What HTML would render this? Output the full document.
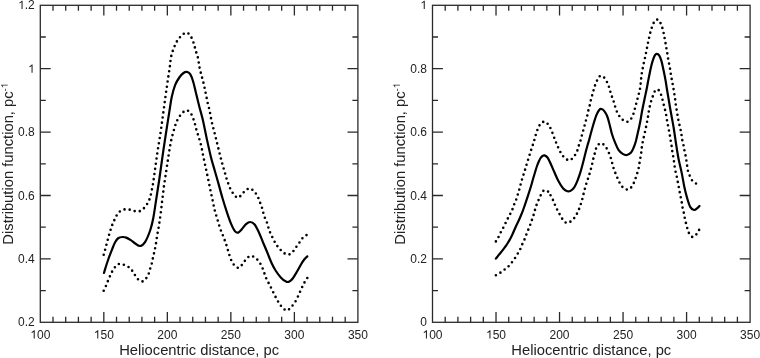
<!DOCTYPE html>
<html><head><meta charset="utf-8"><style>
html,body{margin:0;padding:0;background:#fff;}
body{width:760px;height:358px;overflow:hidden;}
svg{display:block;}
text{-webkit-font-smoothing:antialiased;}
.ax{fill:none;stroke:#2a2a2a;stroke-width:1.3;}
.tk{fill:none;stroke:#2a2a2a;stroke-width:1.3;}
.tl{font-family:"Liberation Sans",sans-serif;font-size:12px;fill:#222;}
.al{font-family:"Liberation Sans",sans-serif;font-size:14.75px;fill:#222;}
.sup{font-size:9.5px;}
.sol{fill:none;stroke:#000;stroke-width:2.2;stroke-linejoin:round;stroke-linecap:round;}
.g1{fill:#222;}
.dotf{fill:#000;stroke:none;}
</style></head><body>
<svg style="will-change:transform" width="760" height="358" viewBox="0 0 760 358">
<defs><path id="one" d="M763,0L583,0L583,1147Q530,1098 444,1046Q358,994 223,938L223,1112Q381,1186 489,1284Q598,1383 644,1409L763,1409Z"/></defs>
<rect x="40.30" y="5.30" width="317.60" height="317.00" class="ax"/>
<path class="tk" d="M53.00,322.30v-5.50 M53.00,5.30v5.50 M65.71,322.30v-5.50 M65.71,5.30v5.50 M78.41,322.30v-5.50 M78.41,5.30v5.50 M91.12,322.30v-5.50 M91.12,5.30v5.50 M103.82,322.30v-10.30 M103.82,5.30v10.30 M116.52,322.30v-5.50 M116.52,5.30v5.50 M129.23,322.30v-5.50 M129.23,5.30v5.50 M141.93,322.30v-5.50 M141.93,5.30v5.50 M154.64,322.30v-5.50 M154.64,5.30v5.50 M167.34,322.30v-10.30 M167.34,5.30v10.30 M180.04,322.30v-5.50 M180.04,5.30v5.50 M192.75,322.30v-5.50 M192.75,5.30v5.50 M205.45,322.30v-5.50 M205.45,5.30v5.50 M218.16,322.30v-5.50 M218.16,5.30v5.50 M230.86,322.30v-10.30 M230.86,5.30v10.30 M243.56,322.30v-5.50 M243.56,5.30v5.50 M256.27,322.30v-5.50 M256.27,5.30v5.50 M268.97,322.30v-5.50 M268.97,5.30v5.50 M281.68,322.30v-5.50 M281.68,5.30v5.50 M294.38,322.30v-10.30 M294.38,5.30v10.30 M307.08,322.30v-5.50 M307.08,5.30v5.50 M319.79,322.30v-5.50 M319.79,5.30v5.50 M332.49,322.30v-5.50 M332.49,5.30v5.50 M345.20,322.30v-5.50 M345.20,5.30v5.50 M40.30,290.60h5.50 M357.90,290.60h-5.50 M40.30,258.90h10.40 M357.90,258.90h-10.40 M40.30,227.20h5.50 M357.90,227.20h-5.50 M40.30,195.50h10.40 M357.90,195.50h-10.40 M40.30,163.80h5.50 M357.90,163.80h-5.50 M40.30,132.10h10.40 M357.90,132.10h-10.40 M40.30,100.40h5.50 M357.90,100.40h-5.50 M40.30,68.70h10.40 M357.90,68.70h-10.40 M40.30,37.00h5.50 M357.90,37.00h-5.50"/>
<text x="34.80" y="326.40" text-anchor="end" class="tl">0.2</text>
<text x="34.80" y="263.00" text-anchor="end" class="tl">0.4</text>
<text x="34.80" y="199.60" text-anchor="end" class="tl">0.6</text>
<text x="34.80" y="136.20" text-anchor="end" class="tl">0.8</text>
<text x="34.80" y="72.80" text-anchor="end" class="tl">&#x2007;</text><use href="#one" class="g1" transform="translate(28.112,72.800) scale(0.005859,-0.005859)"/>
<text x="34.80" y="8.90" text-anchor="end" class="tl">&#x2007;.2</text><use href="#one" class="g1" transform="translate(18.112,8.900) scale(0.005859,-0.005859)"/>
<text x="40.30" y="338.60" text-anchor="middle" class="tl">&#x2007;00</text><use href="#one" class="g1" transform="translate(30.284,338.600) scale(0.005859,-0.005859)"/>
<text x="103.82" y="338.60" text-anchor="middle" class="tl">&#x2007;50</text><use href="#one" class="g1" transform="translate(93.804,338.600) scale(0.005859,-0.005859)"/>
<text x="167.34" y="338.60" text-anchor="middle" class="tl">200</text>
<text x="230.86" y="338.60" text-anchor="middle" class="tl">250</text>
<text x="294.38" y="338.60" text-anchor="middle" class="tl">300</text>
<text x="357.90" y="338.60" text-anchor="middle" class="tl">350</text>
<text x="199.10" y="354.7" text-anchor="middle" class="al">Heliocentric distance, pc</text>
<g transform="translate(13.20,163.80) rotate(-90)"><text text-anchor="middle" class="al">Distribution function, pc<tspan class="sup" dy="-5.5">-&#x2007;</tspan></text><use href="#one" class="g1" transform="translate(75.586,-5.500) scale(0.004639,-0.004639)"/></g>
<rect x="432.50" y="5.30" width="317.60" height="317.00" class="ax"/>
<path class="tk" d="M445.20,322.30v-5.50 M445.20,5.30v5.50 M457.91,322.30v-5.50 M457.91,5.30v5.50 M470.61,322.30v-5.50 M470.61,5.30v5.50 M483.32,322.30v-5.50 M483.32,5.30v5.50 M496.02,322.30v-10.30 M496.02,5.30v10.30 M508.72,322.30v-5.50 M508.72,5.30v5.50 M521.43,322.30v-5.50 M521.43,5.30v5.50 M534.13,322.30v-5.50 M534.13,5.30v5.50 M546.84,322.30v-5.50 M546.84,5.30v5.50 M559.54,322.30v-10.30 M559.54,5.30v10.30 M572.24,322.30v-5.50 M572.24,5.30v5.50 M584.95,322.30v-5.50 M584.95,5.30v5.50 M597.65,322.30v-5.50 M597.65,5.30v5.50 M610.36,322.30v-5.50 M610.36,5.30v5.50 M623.06,322.30v-10.30 M623.06,5.30v10.30 M635.76,322.30v-5.50 M635.76,5.30v5.50 M648.47,322.30v-5.50 M648.47,5.30v5.50 M661.17,322.30v-5.50 M661.17,5.30v5.50 M673.88,322.30v-5.50 M673.88,5.30v5.50 M686.58,322.30v-10.30 M686.58,5.30v10.30 M699.28,322.30v-5.50 M699.28,5.30v5.50 M711.99,322.30v-5.50 M711.99,5.30v5.50 M724.69,322.30v-5.50 M724.69,5.30v5.50 M737.40,322.30v-5.50 M737.40,5.30v5.50 M432.50,290.60h5.50 M750.10,290.60h-5.50 M432.50,258.90h10.40 M750.10,258.90h-10.40 M432.50,227.20h5.50 M750.10,227.20h-5.50 M432.50,195.50h10.40 M750.10,195.50h-10.40 M432.50,163.80h5.50 M750.10,163.80h-5.50 M432.50,132.10h10.40 M750.10,132.10h-10.40 M432.50,100.40h5.50 M750.10,100.40h-5.50 M432.50,68.70h10.40 M750.10,68.70h-10.40 M432.50,37.00h5.50 M750.10,37.00h-5.50"/>
<text x="427.00" y="326.40" text-anchor="end" class="tl">0</text>
<text x="427.00" y="263.00" text-anchor="end" class="tl">0.2</text>
<text x="427.00" y="199.60" text-anchor="end" class="tl">0.4</text>
<text x="427.00" y="136.20" text-anchor="end" class="tl">0.6</text>
<text x="427.00" y="72.80" text-anchor="end" class="tl">0.8</text>
<text x="427.00" y="8.90" text-anchor="end" class="tl">&#x2007;</text><use href="#one" class="g1" transform="translate(420.312,8.900) scale(0.005859,-0.005859)"/>
<text x="432.50" y="338.60" text-anchor="middle" class="tl">&#x2007;00</text><use href="#one" class="g1" transform="translate(422.484,338.600) scale(0.005859,-0.005859)"/>
<text x="496.02" y="338.60" text-anchor="middle" class="tl">&#x2007;50</text><use href="#one" class="g1" transform="translate(486.004,338.600) scale(0.005859,-0.005859)"/>
<text x="559.54" y="338.60" text-anchor="middle" class="tl">200</text>
<text x="623.06" y="338.60" text-anchor="middle" class="tl">250</text>
<text x="686.58" y="338.60" text-anchor="middle" class="tl">300</text>
<text x="750.10" y="338.60" text-anchor="middle" class="tl">350</text>
<text x="591.30" y="354.7" text-anchor="middle" class="al">Heliocentric distance, pc</text>
<g transform="translate(405.40,163.80) rotate(-90)"><text text-anchor="middle" class="al">Distribution function, pc<tspan class="sup" dy="-5.5">-&#x2007;</tspan></text><use href="#one" class="g1" transform="translate(75.586,-5.500) scale(0.004639,-0.004639)"/></g>
<path class="sol" d="M104.00,273.00 C104.18,272.35 104.37,271.43 105.10,269.10 C105.83,266.77 107.28,262.17 108.40,259.00 C109.52,255.83 110.68,252.88 111.80,250.10 C112.92,247.32 113.98,244.32 115.10,242.30 C116.22,240.28 117.28,238.88 118.50,238.00 C119.72,237.12 121.10,237.07 122.40,237.00 C123.70,236.93 124.90,237.08 126.30,237.60 C127.70,238.12 129.32,239.12 130.80,240.10 C132.28,241.08 133.63,242.52 135.20,243.50 C136.77,244.48 138.53,246.28 140.20,246.00 C141.87,245.72 143.52,244.47 145.20,241.80 C146.88,239.13 148.95,233.97 150.30,230.00 C151.65,226.03 152.33,222.98 153.30,218.00 C154.27,213.02 155.12,206.43 156.10,200.10 C157.08,193.77 157.98,188.32 159.20,180.00 C160.42,171.68 162.20,158.45 163.40,150.20 C164.60,141.95 165.42,136.88 166.40,130.50 C167.38,124.12 168.40,117.52 169.30,111.90 C170.20,106.28 170.83,101.27 171.80,96.80 C172.77,92.33 173.85,88.32 175.10,85.10 C176.35,81.88 177.90,79.52 179.30,77.50 C180.70,75.48 182.25,73.93 183.50,73.00 C184.75,72.07 185.68,71.70 186.80,71.90 C187.92,72.10 189.13,72.57 190.20,74.20 C191.27,75.83 192.22,78.48 193.20,81.70 C194.18,84.92 195.07,89.30 196.10,93.50 C197.13,97.70 198.30,102.60 199.40,106.90 C200.50,111.20 201.48,114.05 202.70,119.30 C203.92,124.55 205.33,132.13 206.70,138.40 C208.07,144.67 209.52,151.38 210.90,156.90 C212.28,162.42 213.75,167.08 215.00,171.50 C216.25,175.92 217.13,178.90 218.40,183.40 C219.67,187.90 221.20,193.75 222.60,198.50 C224.00,203.25 225.40,207.72 226.80,211.90 C228.20,216.08 229.62,220.35 231.00,223.60 C232.38,226.85 233.90,229.90 235.10,231.40 C236.30,232.90 237.08,232.97 238.20,232.60 C239.32,232.23 240.50,230.60 241.80,229.20 C243.10,227.80 244.60,225.40 246.00,224.20 C247.40,223.00 248.80,222.00 250.20,222.00 C251.60,222.00 253.00,222.58 254.40,224.20 C255.80,225.82 257.20,228.77 258.60,231.70 C260.00,234.63 261.40,238.45 262.80,241.80 C264.20,245.15 265.50,248.18 267.00,251.80 C268.50,255.42 270.32,260.30 271.80,263.50 C273.28,266.70 274.37,268.63 275.90,271.00 C277.43,273.37 279.32,275.93 281.00,277.70 C282.68,279.47 284.60,280.95 286.00,281.60 C287.40,282.25 288.28,282.12 289.40,281.60 C290.52,281.08 291.45,280.13 292.70,278.50 C293.95,276.87 295.50,274.17 296.90,271.80 C298.30,269.43 299.85,266.38 301.10,264.30 C302.35,262.22 303.37,260.62 304.40,259.30 C305.43,257.98 306.82,256.88 307.30,256.40"/>
<path class="dotf" d="M102.40,254.80a1.30,1.30 0 1,0 2.60,0a1.30,1.30 0 1,0 -2.60,0M103.80,249.80a1.30,1.30 0 1,0 2.60,0a1.30,1.30 0 1,0 -2.60,0M105.12,244.79a1.30,1.30 0 1,0 2.60,0a1.30,1.30 0 1,0 -2.60,0M106.43,239.77a1.30,1.30 0 1,0 2.60,0a1.30,1.30 0 1,0 -2.60,0M107.78,234.76a1.30,1.30 0 1,0 2.60,0a1.30,1.30 0 1,0 -2.60,0M109.30,229.80a1.30,1.30 0 1,0 2.60,0a1.30,1.30 0 1,0 -2.60,0M110.94,224.88a1.30,1.30 0 1,0 2.60,0a1.30,1.30 0 1,0 -2.60,0M113.03,220.14a1.30,1.30 0 1,0 2.60,0a1.30,1.30 0 1,0 -2.60,0M115.31,215.48a1.30,1.30 0 1,0 2.60,0a1.30,1.30 0 1,0 -2.60,0M118.53,211.43a1.30,1.30 0 1,0 2.60,0a1.30,1.30 0 1,0 -2.60,0M123.23,209.38a1.30,1.30 0 1,0 2.60,0a1.30,1.30 0 1,0 -2.60,0M128.38,209.65a1.30,1.30 0 1,0 2.60,0a1.30,1.30 0 1,0 -2.60,0M133.36,211.09a1.30,1.30 0 1,0 2.60,0a1.30,1.30 0 1,0 -2.60,0M138.49,211.15a1.30,1.30 0 1,0 2.60,0a1.30,1.30 0 1,0 -2.60,0M142.66,208.15a1.30,1.30 0 1,0 2.60,0a1.30,1.30 0 1,0 -2.60,0M145.79,204.03a1.30,1.30 0 1,0 2.60,0a1.30,1.30 0 1,0 -2.60,0M148.11,199.40a1.30,1.30 0 1,0 2.60,0a1.30,1.30 0 1,0 -2.60,0M149.57,194.43a1.30,1.30 0 1,0 2.60,0a1.30,1.30 0 1,0 -2.60,0M150.65,189.35a1.30,1.30 0 1,0 2.60,0a1.30,1.30 0 1,0 -2.60,0M151.63,184.26a1.30,1.30 0 1,0 2.60,0a1.30,1.30 0 1,0 -2.60,0M152.40,179.13a1.30,1.30 0 1,0 2.60,0a1.30,1.30 0 1,0 -2.60,0M153.11,173.99a1.30,1.30 0 1,0 2.60,0a1.30,1.30 0 1,0 -2.60,0M153.82,168.85a1.30,1.30 0 1,0 2.60,0a1.30,1.30 0 1,0 -2.60,0M154.52,163.71a1.30,1.30 0 1,0 2.60,0a1.30,1.30 0 1,0 -2.60,0M155.23,158.57a1.30,1.30 0 1,0 2.60,0a1.30,1.30 0 1,0 -2.60,0M155.96,153.44a1.30,1.30 0 1,0 2.60,0a1.30,1.30 0 1,0 -2.60,0M156.73,148.31a1.30,1.30 0 1,0 2.60,0a1.30,1.30 0 1,0 -2.60,0M157.56,143.18a1.30,1.30 0 1,0 2.60,0a1.30,1.30 0 1,0 -2.60,0M158.41,138.07a1.30,1.30 0 1,0 2.60,0a1.30,1.30 0 1,0 -2.60,0M159.21,132.94a1.30,1.30 0 1,0 2.60,0a1.30,1.30 0 1,0 -2.60,0M159.94,127.80a1.30,1.30 0 1,0 2.60,0a1.30,1.30 0 1,0 -2.60,0M160.65,122.67a1.30,1.30 0 1,0 2.60,0a1.30,1.30 0 1,0 -2.60,0M161.34,117.52a1.30,1.30 0 1,0 2.60,0a1.30,1.30 0 1,0 -2.60,0M162.03,112.38a1.30,1.30 0 1,0 2.60,0a1.30,1.30 0 1,0 -2.60,0M162.73,107.24a1.30,1.30 0 1,0 2.60,0a1.30,1.30 0 1,0 -2.60,0M163.43,102.10a1.30,1.30 0 1,0 2.60,0a1.30,1.30 0 1,0 -2.60,0M164.12,96.96a1.30,1.30 0 1,0 2.60,0a1.30,1.30 0 1,0 -2.60,0M164.83,91.82a1.30,1.30 0 1,0 2.60,0a1.30,1.30 0 1,0 -2.60,0M165.56,86.68a1.30,1.30 0 1,0 2.60,0a1.30,1.30 0 1,0 -2.60,0M166.30,81.55a1.30,1.30 0 1,0 2.60,0a1.30,1.30 0 1,0 -2.60,0M167.06,76.42a1.30,1.30 0 1,0 2.60,0a1.30,1.30 0 1,0 -2.60,0M167.85,71.29a1.30,1.30 0 1,0 2.60,0a1.30,1.30 0 1,0 -2.60,0M168.60,66.16a1.30,1.30 0 1,0 2.60,0a1.30,1.30 0 1,0 -2.60,0M169.14,61.00a1.30,1.30 0 1,0 2.60,0a1.30,1.30 0 1,0 -2.60,0M169.98,55.88a1.30,1.30 0 1,0 2.60,0a1.30,1.30 0 1,0 -2.60,0M171.45,50.91a1.30,1.30 0 1,0 2.60,0a1.30,1.30 0 1,0 -2.60,0M173.34,46.08a1.30,1.30 0 1,0 2.60,0a1.30,1.30 0 1,0 -2.60,0M175.58,41.40a1.30,1.30 0 1,0 2.60,0a1.30,1.30 0 1,0 -2.60,0M178.66,37.24a1.30,1.30 0 1,0 2.60,0a1.30,1.30 0 1,0 -2.60,0M182.45,33.70a1.30,1.30 0 1,0 2.60,0a1.30,1.30 0 1,0 -2.60,0M187.14,33.47a1.30,1.30 0 1,0 2.60,0a1.30,1.30 0 1,0 -2.60,0M190.21,37.63a1.30,1.30 0 1,0 2.60,0a1.30,1.30 0 1,0 -2.60,0M192.14,42.44a1.30,1.30 0 1,0 2.60,0a1.30,1.30 0 1,0 -2.60,0M193.58,47.42a1.30,1.30 0 1,0 2.60,0a1.30,1.30 0 1,0 -2.60,0M194.98,52.42a1.30,1.30 0 1,0 2.60,0a1.30,1.30 0 1,0 -2.60,0M196.53,57.37a1.30,1.30 0 1,0 2.60,0a1.30,1.30 0 1,0 -2.60,0M197.44,62.47a1.30,1.30 0 1,0 2.60,0a1.30,1.30 0 1,0 -2.60,0M198.24,67.60a1.30,1.30 0 1,0 2.60,0a1.30,1.30 0 1,0 -2.60,0M199.45,72.64a1.30,1.30 0 1,0 2.60,0a1.30,1.30 0 1,0 -2.60,0M200.79,77.65a1.30,1.30 0 1,0 2.60,0a1.30,1.30 0 1,0 -2.60,0M202.12,82.67a1.30,1.30 0 1,0 2.60,0a1.30,1.30 0 1,0 -2.60,0M203.26,87.73a1.30,1.30 0 1,0 2.60,0a1.30,1.30 0 1,0 -2.60,0M204.32,92.80a1.30,1.30 0 1,0 2.60,0a1.30,1.30 0 1,0 -2.60,0M205.36,97.89a1.30,1.30 0 1,0 2.60,0a1.30,1.30 0 1,0 -2.60,0M206.38,102.97a1.30,1.30 0 1,0 2.60,0a1.30,1.30 0 1,0 -2.60,0M207.68,108.00a1.30,1.30 0 1,0 2.60,0a1.30,1.30 0 1,0 -2.60,0M208.76,113.07a1.30,1.30 0 1,0 2.60,0a1.30,1.30 0 1,0 -2.60,0M209.68,118.17a1.30,1.30 0 1,0 2.60,0a1.30,1.30 0 1,0 -2.60,0M210.76,123.25a1.30,1.30 0 1,0 2.60,0a1.30,1.30 0 1,0 -2.60,0M212.03,128.28a1.30,1.30 0 1,0 2.60,0a1.30,1.30 0 1,0 -2.60,0M213.34,133.30a1.30,1.30 0 1,0 2.60,0a1.30,1.30 0 1,0 -2.60,0M214.60,138.33a1.30,1.30 0 1,0 2.60,0a1.30,1.30 0 1,0 -2.60,0M215.83,143.37a1.30,1.30 0 1,0 2.60,0a1.30,1.30 0 1,0 -2.60,0M217.08,148.41a1.30,1.30 0 1,0 2.60,0a1.30,1.30 0 1,0 -2.60,0M218.33,153.44a1.30,1.30 0 1,0 2.60,0a1.30,1.30 0 1,0 -2.60,0M219.60,158.47a1.30,1.30 0 1,0 2.60,0a1.30,1.30 0 1,0 -2.60,0M220.93,163.48a1.30,1.30 0 1,0 2.60,0a1.30,1.30 0 1,0 -2.60,0M222.37,168.47a1.30,1.30 0 1,0 2.60,0a1.30,1.30 0 1,0 -2.60,0M223.83,173.45a1.30,1.30 0 1,0 2.60,0a1.30,1.30 0 1,0 -2.60,0M225.22,178.44a1.30,1.30 0 1,0 2.60,0a1.30,1.30 0 1,0 -2.60,0M226.88,183.36a1.30,1.30 0 1,0 2.60,0a1.30,1.30 0 1,0 -2.60,0M228.79,188.18a1.30,1.30 0 1,0 2.60,0a1.30,1.30 0 1,0 -2.60,0M231.33,192.70a1.30,1.30 0 1,0 2.60,0a1.30,1.30 0 1,0 -2.60,0M234.62,196.69a1.30,1.30 0 1,0 2.60,0a1.30,1.30 0 1,0 -2.60,0M238.96,196.17a1.30,1.30 0 1,0 2.60,0a1.30,1.30 0 1,0 -2.60,0M242.39,192.28a1.30,1.30 0 1,0 2.60,0a1.30,1.30 0 1,0 -2.60,0M246.35,188.97a1.30,1.30 0 1,0 2.60,0a1.30,1.30 0 1,0 -2.60,0M251.05,189.74a1.30,1.30 0 1,0 2.60,0a1.30,1.30 0 1,0 -2.60,0M254.57,193.53a1.30,1.30 0 1,0 2.60,0a1.30,1.30 0 1,0 -2.60,0M257.08,198.06a1.30,1.30 0 1,0 2.60,0a1.30,1.30 0 1,0 -2.60,0M258.88,202.92a1.30,1.30 0 1,0 2.60,0a1.30,1.30 0 1,0 -2.60,0M260.69,207.78a1.30,1.30 0 1,0 2.60,0a1.30,1.30 0 1,0 -2.60,0M261.99,212.80a1.30,1.30 0 1,0 2.60,0a1.30,1.30 0 1,0 -2.60,0M263.57,217.73a1.30,1.30 0 1,0 2.60,0a1.30,1.30 0 1,0 -2.60,0M265.63,222.49a1.30,1.30 0 1,0 2.60,0a1.30,1.30 0 1,0 -2.60,0M267.06,227.48a1.30,1.30 0 1,0 2.60,0a1.30,1.30 0 1,0 -2.60,0M268.76,232.37a1.30,1.30 0 1,0 2.60,0a1.30,1.30 0 1,0 -2.60,0M270.96,237.07a1.30,1.30 0 1,0 2.60,0a1.30,1.30 0 1,0 -2.60,0M273.32,241.69a1.30,1.30 0 1,0 2.60,0a1.30,1.30 0 1,0 -2.60,0M276.07,246.08a1.30,1.30 0 1,0 2.60,0a1.30,1.30 0 1,0 -2.60,0M279.40,250.05a1.30,1.30 0 1,0 2.60,0a1.30,1.30 0 1,0 -2.60,0M283.31,253.42a1.30,1.30 0 1,0 2.60,0a1.30,1.30 0 1,0 -2.60,0M288.20,254.33a1.30,1.30 0 1,0 2.60,0a1.30,1.30 0 1,0 -2.60,0M292.11,250.96a1.30,1.30 0 1,0 2.60,0a1.30,1.30 0 1,0 -2.60,0M295.10,246.73a1.30,1.30 0 1,0 2.60,0a1.30,1.30 0 1,0 -2.60,0M298.15,242.53a1.30,1.30 0 1,0 2.60,0a1.30,1.30 0 1,0 -2.60,0M301.11,238.28a1.30,1.30 0 1,0 2.60,0a1.30,1.30 0 1,0 -2.60,0M305.20,235.10a1.30,1.30 0 1,0 2.60,0a1.30,1.30 0 1,0 -2.60,0"/>
<path class="dotf" d="M102.40,290.70a1.30,1.30 0 1,0 2.60,0a1.30,1.30 0 1,0 -2.60,0M104.61,285.98a1.30,1.30 0 1,0 2.60,0a1.30,1.30 0 1,0 -2.60,0M106.54,281.15a1.30,1.30 0 1,0 2.60,0a1.30,1.30 0 1,0 -2.60,0M108.59,276.36a1.30,1.30 0 1,0 2.60,0a1.30,1.30 0 1,0 -2.60,0M110.77,271.63a1.30,1.30 0 1,0 2.60,0a1.30,1.30 0 1,0 -2.60,0M113.60,267.27a1.30,1.30 0 1,0 2.60,0a1.30,1.30 0 1,0 -2.60,0M117.54,263.93a1.30,1.30 0 1,0 2.60,0a1.30,1.30 0 1,0 -2.60,0M122.54,264.69a1.30,1.30 0 1,0 2.60,0a1.30,1.30 0 1,0 -2.60,0M127.23,266.94a1.30,1.30 0 1,0 2.60,0a1.30,1.30 0 1,0 -2.60,0M130.85,270.65a1.30,1.30 0 1,0 2.60,0a1.30,1.30 0 1,0 -2.60,0M133.63,275.04a1.30,1.30 0 1,0 2.60,0a1.30,1.30 0 1,0 -2.60,0M136.68,279.26a1.30,1.30 0 1,0 2.60,0a1.30,1.30 0 1,0 -2.60,0M141.24,281.42a1.30,1.30 0 1,0 2.60,0a1.30,1.30 0 1,0 -2.60,0M145.05,278.08a1.30,1.30 0 1,0 2.60,0a1.30,1.30 0 1,0 -2.60,0M147.47,273.49a1.30,1.30 0 1,0 2.60,0a1.30,1.30 0 1,0 -2.60,0M148.93,268.50a1.30,1.30 0 1,0 2.60,0a1.30,1.30 0 1,0 -2.60,0M150.45,263.52a1.30,1.30 0 1,0 2.60,0a1.30,1.30 0 1,0 -2.60,0M151.53,258.42a1.30,1.30 0 1,0 2.60,0a1.30,1.30 0 1,0 -2.60,0M152.69,253.35a1.30,1.30 0 1,0 2.60,0a1.30,1.30 0 1,0 -2.60,0M153.79,248.26a1.30,1.30 0 1,0 2.60,0a1.30,1.30 0 1,0 -2.60,0M154.72,243.13a1.30,1.30 0 1,0 2.60,0a1.30,1.30 0 1,0 -2.60,0M155.49,237.98a1.30,1.30 0 1,0 2.60,0a1.30,1.30 0 1,0 -2.60,0M156.33,232.84a1.30,1.30 0 1,0 2.60,0a1.30,1.30 0 1,0 -2.60,0M157.29,227.72a1.30,1.30 0 1,0 2.60,0a1.30,1.30 0 1,0 -2.60,0M158.12,222.58a1.30,1.30 0 1,0 2.60,0a1.30,1.30 0 1,0 -2.60,0M158.84,217.43a1.30,1.30 0 1,0 2.60,0a1.30,1.30 0 1,0 -2.60,0M159.53,212.26a1.30,1.30 0 1,0 2.60,0a1.30,1.30 0 1,0 -2.60,0M160.16,207.10a1.30,1.30 0 1,0 2.60,0a1.30,1.30 0 1,0 -2.60,0M160.73,201.92a1.30,1.30 0 1,0 2.60,0a1.30,1.30 0 1,0 -2.60,0M161.40,196.75a1.30,1.30 0 1,0 2.60,0a1.30,1.30 0 1,0 -2.60,0M162.01,191.58a1.30,1.30 0 1,0 2.60,0a1.30,1.30 0 1,0 -2.60,0M162.60,186.41a1.30,1.30 0 1,0 2.60,0a1.30,1.30 0 1,0 -2.60,0M163.39,181.26a1.30,1.30 0 1,0 2.60,0a1.30,1.30 0 1,0 -2.60,0M164.18,176.12a1.30,1.30 0 1,0 2.60,0a1.30,1.30 0 1,0 -2.60,0M164.94,170.96a1.30,1.30 0 1,0 2.60,0a1.30,1.30 0 1,0 -2.60,0M165.70,165.81a1.30,1.30 0 1,0 2.60,0a1.30,1.30 0 1,0 -2.60,0M166.49,160.66a1.30,1.30 0 1,0 2.60,0a1.30,1.30 0 1,0 -2.60,0M167.28,155.52a1.30,1.30 0 1,0 2.60,0a1.30,1.30 0 1,0 -2.60,0M168.08,150.37a1.30,1.30 0 1,0 2.60,0a1.30,1.30 0 1,0 -2.60,0M168.94,145.23a1.30,1.30 0 1,0 2.60,0a1.30,1.30 0 1,0 -2.60,0M169.96,140.13a1.30,1.30 0 1,0 2.60,0a1.30,1.30 0 1,0 -2.60,0M171.19,135.07a1.30,1.30 0 1,0 2.60,0a1.30,1.30 0 1,0 -2.60,0M172.59,130.05a1.30,1.30 0 1,0 2.60,0a1.30,1.30 0 1,0 -2.60,0M174.10,125.07a1.30,1.30 0 1,0 2.60,0a1.30,1.30 0 1,0 -2.60,0M175.99,120.22a1.30,1.30 0 1,0 2.60,0a1.30,1.30 0 1,0 -2.60,0M178.68,115.77a1.30,1.30 0 1,0 2.60,0a1.30,1.30 0 1,0 -2.60,0M182.16,111.90a1.30,1.30 0 1,0 2.60,0a1.30,1.30 0 1,0 -2.60,0M186.74,110.71a1.30,1.30 0 1,0 2.60,0a1.30,1.30 0 1,0 -2.60,0M190.19,114.54a1.30,1.30 0 1,0 2.60,0a1.30,1.30 0 1,0 -2.60,0M192.20,119.34a1.30,1.30 0 1,0 2.60,0a1.30,1.30 0 1,0 -2.60,0M193.74,124.31a1.30,1.30 0 1,0 2.60,0a1.30,1.30 0 1,0 -2.60,0M194.99,129.36a1.30,1.30 0 1,0 2.60,0a1.30,1.30 0 1,0 -2.60,0M196.53,134.34a1.30,1.30 0 1,0 2.60,0a1.30,1.30 0 1,0 -2.60,0M198.08,139.31a1.30,1.30 0 1,0 2.60,0a1.30,1.30 0 1,0 -2.60,0M199.51,144.32a1.30,1.30 0 1,0 2.60,0a1.30,1.30 0 1,0 -2.60,0M200.66,149.40a1.30,1.30 0 1,0 2.60,0a1.30,1.30 0 1,0 -2.60,0M201.63,154.52a1.30,1.30 0 1,0 2.60,0a1.30,1.30 0 1,0 -2.60,0M202.67,159.62a1.30,1.30 0 1,0 2.60,0a1.30,1.30 0 1,0 -2.60,0M203.76,164.71a1.30,1.30 0 1,0 2.60,0a1.30,1.30 0 1,0 -2.60,0M204.86,169.80a1.30,1.30 0 1,0 2.60,0a1.30,1.30 0 1,0 -2.60,0M205.96,174.89a1.30,1.30 0 1,0 2.60,0a1.30,1.30 0 1,0 -2.60,0M207.04,179.99a1.30,1.30 0 1,0 2.60,0a1.30,1.30 0 1,0 -2.60,0M208.08,185.09a1.30,1.30 0 1,0 2.60,0a1.30,1.30 0 1,0 -2.60,0M209.12,190.19a1.30,1.30 0 1,0 2.60,0a1.30,1.30 0 1,0 -2.60,0M210.22,195.28a1.30,1.30 0 1,0 2.60,0a1.30,1.30 0 1,0 -2.60,0M211.34,200.37a1.30,1.30 0 1,0 2.60,0a1.30,1.30 0 1,0 -2.60,0M212.37,205.47a1.30,1.30 0 1,0 2.60,0a1.30,1.30 0 1,0 -2.60,0M213.49,210.56a1.30,1.30 0 1,0 2.60,0a1.30,1.30 0 1,0 -2.60,0M214.95,215.56a1.30,1.30 0 1,0 2.60,0a1.30,1.30 0 1,0 -2.60,0M216.44,220.55a1.30,1.30 0 1,0 2.60,0a1.30,1.30 0 1,0 -2.60,0M217.91,225.54a1.30,1.30 0 1,0 2.60,0a1.30,1.30 0 1,0 -2.60,0M219.59,230.47a1.30,1.30 0 1,0 2.60,0a1.30,1.30 0 1,0 -2.60,0M221.52,235.31a1.30,1.30 0 1,0 2.60,0a1.30,1.30 0 1,0 -2.60,0M223.40,240.17a1.30,1.30 0 1,0 2.60,0a1.30,1.30 0 1,0 -2.60,0M225.11,245.09a1.30,1.30 0 1,0 2.60,0a1.30,1.30 0 1,0 -2.60,0M226.58,250.08a1.30,1.30 0 1,0 2.60,0a1.30,1.30 0 1,0 -2.60,0M228.08,255.07a1.30,1.30 0 1,0 2.60,0a1.30,1.30 0 1,0 -2.60,0M229.85,259.96a1.30,1.30 0 1,0 2.60,0a1.30,1.30 0 1,0 -2.60,0M232.40,264.49a1.30,1.30 0 1,0 2.60,0a1.30,1.30 0 1,0 -2.60,0M236.42,267.69a1.30,1.30 0 1,0 2.60,0a1.30,1.30 0 1,0 -2.60,0M240.47,265.08a1.30,1.30 0 1,0 2.60,0a1.30,1.30 0 1,0 -2.60,0M243.54,260.87a1.30,1.30 0 1,0 2.60,0a1.30,1.30 0 1,0 -2.60,0M247.07,257.06a1.30,1.30 0 1,0 2.60,0a1.30,1.30 0 1,0 -2.60,0M251.86,256.51a1.30,1.30 0 1,0 2.60,0a1.30,1.30 0 1,0 -2.60,0M256.01,259.61a1.30,1.30 0 1,0 2.60,0a1.30,1.30 0 1,0 -2.60,0M259.09,263.80a1.30,1.30 0 1,0 2.60,0a1.30,1.30 0 1,0 -2.60,0M261.37,268.47a1.30,1.30 0 1,0 2.60,0a1.30,1.30 0 1,0 -2.60,0M263.12,273.38a1.30,1.30 0 1,0 2.60,0a1.30,1.30 0 1,0 -2.60,0M264.90,278.27a1.30,1.30 0 1,0 2.60,0a1.30,1.30 0 1,0 -2.60,0M267.26,282.91a1.30,1.30 0 1,0 2.60,0a1.30,1.30 0 1,0 -2.60,0M269.62,287.55a1.30,1.30 0 1,0 2.60,0a1.30,1.30 0 1,0 -2.60,0M271.92,292.23a1.30,1.30 0 1,0 2.60,0a1.30,1.30 0 1,0 -2.60,0M274.26,296.88a1.30,1.30 0 1,0 2.60,0a1.30,1.30 0 1,0 -2.60,0M276.76,301.45a1.30,1.30 0 1,0 2.60,0a1.30,1.30 0 1,0 -2.60,0M279.63,305.79a1.30,1.30 0 1,0 2.60,0a1.30,1.30 0 1,0 -2.60,0M283.27,309.51a1.30,1.30 0 1,0 2.60,0a1.30,1.30 0 1,0 -2.60,0M287.75,309.27a1.30,1.30 0 1,0 2.60,0a1.30,1.30 0 1,0 -2.60,0M291.26,305.43a1.30,1.30 0 1,0 2.60,0a1.30,1.30 0 1,0 -2.60,0M294.27,301.19a1.30,1.30 0 1,0 2.60,0a1.30,1.30 0 1,0 -2.60,0M296.62,296.55a1.30,1.30 0 1,0 2.60,0a1.30,1.30 0 1,0 -2.60,0M298.76,291.80a1.30,1.30 0 1,0 2.60,0a1.30,1.30 0 1,0 -2.60,0M300.87,287.03a1.30,1.30 0 1,0 2.60,0a1.30,1.30 0 1,0 -2.60,0M303.20,282.38a1.30,1.30 0 1,0 2.60,0a1.30,1.30 0 1,0 -2.60,0M306.00,278.00a1.30,1.30 0 1,0 2.60,0a1.30,1.30 0 1,0 -2.60,0"/>
<path class="sol" d="M495.90,258.60 C496.32,258.07 497.55,256.45 498.40,255.40 C499.25,254.35 500.12,253.40 501.00,252.30 C501.88,251.20 502.80,249.98 503.70,248.80 C504.60,247.62 505.58,246.40 506.40,245.20 C507.22,244.00 507.93,242.72 508.60,241.60 C509.27,240.48 509.80,239.62 510.40,238.50 C511.00,237.38 511.23,237.03 512.20,234.90 C513.17,232.77 515.17,227.98 516.20,225.70 C517.23,223.42 517.67,222.78 518.40,221.20 C519.13,219.62 519.88,217.88 520.60,216.20 C521.32,214.52 522.07,212.75 522.70,211.10 C523.33,209.45 523.52,208.88 524.40,206.30 C525.28,203.72 526.92,198.90 528.00,195.60 C529.08,192.30 530.05,189.30 530.90,186.50 C531.75,183.70 532.38,181.25 533.10,178.80 C533.82,176.35 534.55,173.93 535.20,171.80 C535.85,169.67 536.40,167.72 537.00,166.00 C537.60,164.28 538.20,162.83 538.80,161.50 C539.40,160.17 539.98,158.92 540.60,158.00 C541.22,157.08 541.85,156.43 542.50,156.00 C543.15,155.57 543.67,155.15 544.50,155.40 C545.33,155.65 546.43,156.03 547.50,157.50 C548.57,158.97 549.78,161.82 550.90,164.20 C552.02,166.58 552.95,169.00 554.20,171.80 C555.45,174.60 556.90,178.22 558.40,181.00 C559.90,183.78 561.70,186.78 563.20,188.50 C564.70,190.22 566.12,190.95 567.40,191.30 C568.68,191.65 569.73,191.30 570.90,190.60 C572.07,189.90 573.37,188.60 574.40,187.10 C575.43,185.60 576.20,183.75 577.10,181.60 C578.00,179.45 579.00,176.63 579.80,174.20 C580.60,171.77 581.23,169.40 581.90,167.00 C582.57,164.60 583.17,162.30 583.80,159.80 C584.43,157.30 585.07,154.47 585.70,152.00 C586.33,149.53 587.03,147.00 587.60,145.00 C588.17,143.00 588.53,142.03 589.10,140.00 C589.67,137.97 590.22,135.63 591.00,132.80 C591.78,129.97 592.87,126.03 593.80,123.00 C594.73,119.97 595.67,116.82 596.60,114.60 C597.53,112.38 598.58,110.63 599.40,109.70 C600.22,108.77 600.68,108.77 601.50,109.00 C602.32,109.23 603.37,109.93 604.30,111.10 C605.23,112.27 606.28,114.02 607.10,116.00 C607.92,117.98 608.42,120.08 609.20,123.00 C609.98,125.92 610.82,130.22 611.80,133.50 C612.78,136.78 613.98,139.97 615.10,142.70 C616.22,145.43 617.23,148.03 618.50,149.90 C619.77,151.77 621.30,153.05 622.70,153.90 C624.10,154.75 625.50,155.22 626.90,155.00 C628.30,154.78 629.93,153.93 631.10,152.60 C632.27,151.27 633.08,148.98 633.90,147.00 C634.72,145.02 635.38,142.92 636.00,140.70 C636.62,138.48 637.07,136.02 637.60,133.70 C638.13,131.38 638.70,129.12 639.20,126.80 C639.70,124.48 640.17,122.17 640.60,119.80 C641.03,117.43 641.37,114.98 641.80,112.60 C642.23,110.22 642.68,108.05 643.20,105.50 C643.72,102.95 644.33,100.00 644.90,97.30 C645.47,94.60 646.07,91.97 646.60,89.30 C647.13,86.63 647.60,83.90 648.10,81.30 C648.60,78.70 649.08,76.20 649.60,73.70 C650.12,71.20 650.70,68.40 651.20,66.30 C651.70,64.20 652.02,62.88 652.60,61.10 C653.18,59.32 654.00,56.80 654.70,55.60 C655.40,54.40 656.03,53.90 656.80,53.90 C657.57,53.90 658.52,54.40 659.30,55.60 C660.08,56.80 660.80,58.68 661.50,61.10 C662.20,63.52 662.83,66.93 663.50,70.10 C664.17,73.27 664.90,76.75 665.50,80.10 C666.10,83.45 666.55,86.85 667.10,90.20 C667.65,93.55 668.23,96.85 668.80,100.20 C669.37,103.55 669.72,105.87 670.50,110.30 C671.28,114.73 672.58,121.27 673.50,126.80 C674.42,132.33 675.17,138.20 676.00,143.50 C676.83,148.80 677.53,153.62 678.50,158.60 C679.47,163.58 680.83,168.70 681.80,173.40 C682.77,178.10 683.47,182.88 684.30,186.80 C685.13,190.72 685.82,193.55 686.80,196.90 C687.78,200.25 688.98,204.72 690.20,206.90 C691.42,209.08 692.85,209.85 694.10,210.00 C695.35,210.15 696.80,208.47 697.70,207.80 C698.60,207.13 699.20,206.30 699.50,206.00"/>
<path class="dotf" d="M494.60,241.40a1.30,1.30 0 1,0 2.60,0a1.30,1.30 0 1,0 -2.60,0M497.22,236.93a1.30,1.30 0 1,0 2.60,0a1.30,1.30 0 1,0 -2.60,0M499.47,232.26a1.30,1.30 0 1,0 2.60,0a1.30,1.30 0 1,0 -2.60,0M501.94,227.70a1.30,1.30 0 1,0 2.60,0a1.30,1.30 0 1,0 -2.60,0M504.27,223.07a1.30,1.30 0 1,0 2.60,0a1.30,1.30 0 1,0 -2.60,0M506.54,218.41a1.30,1.30 0 1,0 2.60,0a1.30,1.30 0 1,0 -2.60,0M508.98,213.83a1.30,1.30 0 1,0 2.60,0a1.30,1.30 0 1,0 -2.60,0M511.18,209.14a1.30,1.30 0 1,0 2.60,0a1.30,1.30 0 1,0 -2.60,0M512.92,204.26a1.30,1.30 0 1,0 2.60,0a1.30,1.30 0 1,0 -2.60,0M514.92,199.48a1.30,1.30 0 1,0 2.60,0a1.30,1.30 0 1,0 -2.60,0M516.50,194.54a1.30,1.30 0 1,0 2.60,0a1.30,1.30 0 1,0 -2.60,0M517.95,189.57a1.30,1.30 0 1,0 2.60,0a1.30,1.30 0 1,0 -2.60,0M519.31,184.56a1.30,1.30 0 1,0 2.60,0a1.30,1.30 0 1,0 -2.60,0M520.69,179.56a1.30,1.30 0 1,0 2.60,0a1.30,1.30 0 1,0 -2.60,0M522.22,174.61a1.30,1.30 0 1,0 2.60,0a1.30,1.30 0 1,0 -2.60,0M523.75,169.66a1.30,1.30 0 1,0 2.60,0a1.30,1.30 0 1,0 -2.60,0M525.24,164.69a1.30,1.30 0 1,0 2.60,0a1.30,1.30 0 1,0 -2.60,0M526.77,159.74a1.30,1.30 0 1,0 2.60,0a1.30,1.30 0 1,0 -2.60,0M528.33,154.79a1.30,1.30 0 1,0 2.60,0a1.30,1.30 0 1,0 -2.60,0M529.88,149.85a1.30,1.30 0 1,0 2.60,0a1.30,1.30 0 1,0 -2.60,0M531.53,144.93a1.30,1.30 0 1,0 2.60,0a1.30,1.30 0 1,0 -2.60,0M533.03,139.97a1.30,1.30 0 1,0 2.60,0a1.30,1.30 0 1,0 -2.60,0M534.42,134.97a1.30,1.30 0 1,0 2.60,0a1.30,1.30 0 1,0 -2.60,0M536.06,130.06a1.30,1.30 0 1,0 2.60,0a1.30,1.30 0 1,0 -2.60,0M538.21,125.34a1.30,1.30 0 1,0 2.60,0a1.30,1.30 0 1,0 -2.60,0M541.90,121.88a1.30,1.30 0 1,0 2.60,0a1.30,1.30 0 1,0 -2.60,0M546.30,123.70a1.30,1.30 0 1,0 2.60,0a1.30,1.30 0 1,0 -2.60,0M549.09,128.06a1.30,1.30 0 1,0 2.60,0a1.30,1.30 0 1,0 -2.60,0M551.13,132.83a1.30,1.30 0 1,0 2.60,0a1.30,1.30 0 1,0 -2.60,0M552.90,137.70a1.30,1.30 0 1,0 2.60,0a1.30,1.30 0 1,0 -2.60,0M554.75,142.55a1.30,1.30 0 1,0 2.60,0a1.30,1.30 0 1,0 -2.60,0M556.78,147.31a1.30,1.30 0 1,0 2.60,0a1.30,1.30 0 1,0 -2.60,0M559.05,151.98a1.30,1.30 0 1,0 2.60,0a1.30,1.30 0 1,0 -2.60,0M561.87,156.31a1.30,1.30 0 1,0 2.60,0a1.30,1.30 0 1,0 -2.60,0M565.81,159.62a1.30,1.30 0 1,0 2.60,0a1.30,1.30 0 1,0 -2.60,0M570.48,159.01a1.30,1.30 0 1,0 2.60,0a1.30,1.30 0 1,0 -2.60,0M573.76,155.00a1.30,1.30 0 1,0 2.60,0a1.30,1.30 0 1,0 -2.60,0M576.09,150.39a1.30,1.30 0 1,0 2.60,0a1.30,1.30 0 1,0 -2.60,0M577.56,145.42a1.30,1.30 0 1,0 2.60,0a1.30,1.30 0 1,0 -2.60,0M579.23,140.51a1.30,1.30 0 1,0 2.60,0a1.30,1.30 0 1,0 -2.60,0M580.53,135.50a1.30,1.30 0 1,0 2.60,0a1.30,1.30 0 1,0 -2.60,0M581.90,130.50a1.30,1.30 0 1,0 2.60,0a1.30,1.30 0 1,0 -2.60,0M583.27,125.50a1.30,1.30 0 1,0 2.60,0a1.30,1.30 0 1,0 -2.60,0M584.63,120.49a1.30,1.30 0 1,0 2.60,0a1.30,1.30 0 1,0 -2.60,0M585.99,115.49a1.30,1.30 0 1,0 2.60,0a1.30,1.30 0 1,0 -2.60,0M587.07,110.42a1.30,1.30 0 1,0 2.60,0a1.30,1.30 0 1,0 -2.60,0M588.41,105.41a1.30,1.30 0 1,0 2.60,0a1.30,1.30 0 1,0 -2.60,0M589.49,100.34a1.30,1.30 0 1,0 2.60,0a1.30,1.30 0 1,0 -2.60,0M590.83,95.33a1.30,1.30 0 1,0 2.60,0a1.30,1.30 0 1,0 -2.60,0M592.25,90.35a1.30,1.30 0 1,0 2.60,0a1.30,1.30 0 1,0 -2.60,0M593.72,85.38a1.30,1.30 0 1,0 2.60,0a1.30,1.30 0 1,0 -2.60,0M595.70,80.59a1.30,1.30 0 1,0 2.60,0a1.30,1.30 0 1,0 -2.60,0M598.41,76.19a1.30,1.30 0 1,0 2.60,0a1.30,1.30 0 1,0 -2.60,0M602.87,77.61a1.30,1.30 0 1,0 2.60,0a1.30,1.30 0 1,0 -2.60,0M605.65,81.98a1.30,1.30 0 1,0 2.60,0a1.30,1.30 0 1,0 -2.60,0M607.63,86.77a1.30,1.30 0 1,0 2.60,0a1.30,1.30 0 1,0 -2.60,0M609.04,91.75a1.30,1.30 0 1,0 2.60,0a1.30,1.30 0 1,0 -2.60,0M610.66,96.68a1.30,1.30 0 1,0 2.60,0a1.30,1.30 0 1,0 -2.60,0M612.39,101.57a1.30,1.30 0 1,0 2.60,0a1.30,1.30 0 1,0 -2.60,0M613.82,106.55a1.30,1.30 0 1,0 2.60,0a1.30,1.30 0 1,0 -2.60,0M615.53,111.44a1.30,1.30 0 1,0 2.60,0a1.30,1.30 0 1,0 -2.60,0M618.00,115.99a1.30,1.30 0 1,0 2.60,0a1.30,1.30 0 1,0 -2.60,0M621.43,119.85a1.30,1.30 0 1,0 2.60,0a1.30,1.30 0 1,0 -2.60,0M626.12,121.76a1.30,1.30 0 1,0 2.60,0a1.30,1.30 0 1,0 -2.60,0M629.98,118.46a1.30,1.30 0 1,0 2.60,0a1.30,1.30 0 1,0 -2.60,0M632.16,113.78a1.30,1.30 0 1,0 2.60,0a1.30,1.30 0 1,0 -2.60,0M633.55,108.79a1.30,1.30 0 1,0 2.60,0a1.30,1.30 0 1,0 -2.60,0M634.88,103.78a1.30,1.30 0 1,0 2.60,0a1.30,1.30 0 1,0 -2.60,0M636.23,98.78a1.30,1.30 0 1,0 2.60,0a1.30,1.30 0 1,0 -2.60,0M637.54,93.76a1.30,1.30 0 1,0 2.60,0a1.30,1.30 0 1,0 -2.60,0M638.69,88.71a1.30,1.30 0 1,0 2.60,0a1.30,1.30 0 1,0 -2.60,0M639.37,83.57a1.30,1.30 0 1,0 2.60,0a1.30,1.30 0 1,0 -2.60,0M639.84,78.40a1.30,1.30 0 1,0 2.60,0a1.30,1.30 0 1,0 -2.60,0M640.50,73.26a1.30,1.30 0 1,0 2.60,0a1.30,1.30 0 1,0 -2.60,0M641.46,68.17a1.30,1.30 0 1,0 2.60,0a1.30,1.30 0 1,0 -2.60,0M642.48,63.09a1.30,1.30 0 1,0 2.60,0a1.30,1.30 0 1,0 -2.60,0M643.65,58.03a1.30,1.30 0 1,0 2.60,0a1.30,1.30 0 1,0 -2.60,0M644.69,52.96a1.30,1.30 0 1,0 2.60,0a1.30,1.30 0 1,0 -2.60,0M645.70,47.87a1.30,1.30 0 1,0 2.60,0a1.30,1.30 0 1,0 -2.60,0M646.70,42.79a1.30,1.30 0 1,0 2.60,0a1.30,1.30 0 1,0 -2.60,0M647.79,37.72a1.30,1.30 0 1,0 2.60,0a1.30,1.30 0 1,0 -2.60,0M648.99,32.67a1.30,1.30 0 1,0 2.60,0a1.30,1.30 0 1,0 -2.60,0M650.48,27.71a1.30,1.30 0 1,0 2.60,0a1.30,1.30 0 1,0 -2.60,0M652.36,22.88a1.30,1.30 0 1,0 2.60,0a1.30,1.30 0 1,0 -2.60,0M655.90,19.60a1.30,1.30 0 1,0 2.60,0a1.30,1.30 0 1,0 -2.60,0M659.21,23.09a1.30,1.30 0 1,0 2.60,0a1.30,1.30 0 1,0 -2.60,0M661.05,27.93a1.30,1.30 0 1,0 2.60,0a1.30,1.30 0 1,0 -2.60,0M662.31,32.96a1.30,1.30 0 1,0 2.60,0a1.30,1.30 0 1,0 -2.60,0M663.29,38.05a1.30,1.30 0 1,0 2.60,0a1.30,1.30 0 1,0 -2.60,0M664.25,43.15a1.30,1.30 0 1,0 2.60,0a1.30,1.30 0 1,0 -2.60,0M665.11,48.26a1.30,1.30 0 1,0 2.60,0a1.30,1.30 0 1,0 -2.60,0M666.00,53.37a1.30,1.30 0 1,0 2.60,0a1.30,1.30 0 1,0 -2.60,0M666.81,58.49a1.30,1.30 0 1,0 2.60,0a1.30,1.30 0 1,0 -2.60,0M667.73,63.59a1.30,1.30 0 1,0 2.60,0a1.30,1.30 0 1,0 -2.60,0M668.72,68.67a1.30,1.30 0 1,0 2.60,0a1.30,1.30 0 1,0 -2.60,0M669.48,73.80a1.30,1.30 0 1,0 2.60,0a1.30,1.30 0 1,0 -2.60,0M670.37,78.91a1.30,1.30 0 1,0 2.60,0a1.30,1.30 0 1,0 -2.60,0M671.35,84.00a1.30,1.30 0 1,0 2.60,0a1.30,1.30 0 1,0 -2.60,0M672.25,89.10a1.30,1.30 0 1,0 2.60,0a1.30,1.30 0 1,0 -2.60,0M673.07,94.22a1.30,1.30 0 1,0 2.60,0a1.30,1.30 0 1,0 -2.60,0M673.85,99.35a1.30,1.30 0 1,0 2.60,0a1.30,1.30 0 1,0 -2.60,0M674.45,104.49a1.30,1.30 0 1,0 2.60,0a1.30,1.30 0 1,0 -2.60,0M675.27,109.61a1.30,1.30 0 1,0 2.60,0a1.30,1.30 0 1,0 -2.60,0M676.14,114.73a1.30,1.30 0 1,0 2.60,0a1.30,1.30 0 1,0 -2.60,0M677.03,119.83a1.30,1.30 0 1,0 2.60,0a1.30,1.30 0 1,0 -2.60,0M678.16,124.89a1.30,1.30 0 1,0 2.60,0a1.30,1.30 0 1,0 -2.60,0M679.33,129.94a1.30,1.30 0 1,0 2.60,0a1.30,1.30 0 1,0 -2.60,0M680.24,135.05a1.30,1.30 0 1,0 2.60,0a1.30,1.30 0 1,0 -2.60,0M681.00,140.17a1.30,1.30 0 1,0 2.60,0a1.30,1.30 0 1,0 -2.60,0M682.20,145.22a1.30,1.30 0 1,0 2.60,0a1.30,1.30 0 1,0 -2.60,0M683.12,150.32a1.30,1.30 0 1,0 2.60,0a1.30,1.30 0 1,0 -2.60,0M684.24,155.38a1.30,1.30 0 1,0 2.60,0a1.30,1.30 0 1,0 -2.60,0M685.10,160.49a1.30,1.30 0 1,0 2.60,0a1.30,1.30 0 1,0 -2.60,0M685.80,165.63a1.30,1.30 0 1,0 2.60,0a1.30,1.30 0 1,0 -2.60,0M686.61,170.75a1.30,1.30 0 1,0 2.60,0a1.30,1.30 0 1,0 -2.60,0M688.36,175.62a1.30,1.30 0 1,0 2.60,0a1.30,1.30 0 1,0 -2.60,0M690.70,180.22a1.30,1.30 0 1,0 2.60,0a1.30,1.30 0 1,0 -2.60,0M694.70,183.50a1.30,1.30 0 1,0 2.60,0a1.30,1.30 0 1,0 -2.60,0"/>
<path class="dotf" d="M494.60,275.30a1.30,1.30 0 1,0 2.60,0a1.30,1.30 0 1,0 -2.60,0M499.11,272.66a1.30,1.30 0 1,0 2.60,0a1.30,1.30 0 1,0 -2.60,0M503.32,269.57a1.30,1.30 0 1,0 2.60,0a1.30,1.30 0 1,0 -2.60,0M507.30,266.20a1.30,1.30 0 1,0 2.60,0a1.30,1.30 0 1,0 -2.60,0M510.66,262.20a1.30,1.30 0 1,0 2.60,0a1.30,1.30 0 1,0 -2.60,0M513.74,257.98a1.30,1.30 0 1,0 2.60,0a1.30,1.30 0 1,0 -2.60,0M516.49,253.54a1.30,1.30 0 1,0 2.60,0a1.30,1.30 0 1,0 -2.60,0M519.02,248.97a1.30,1.30 0 1,0 2.60,0a1.30,1.30 0 1,0 -2.60,0M521.01,244.14a1.30,1.30 0 1,0 2.60,0a1.30,1.30 0 1,0 -2.60,0M523.22,239.41a1.30,1.30 0 1,0 2.60,0a1.30,1.30 0 1,0 -2.60,0M525.05,234.52a1.30,1.30 0 1,0 2.60,0a1.30,1.30 0 1,0 -2.60,0M526.99,229.67a1.30,1.30 0 1,0 2.60,0a1.30,1.30 0 1,0 -2.60,0M528.94,224.82a1.30,1.30 0 1,0 2.60,0a1.30,1.30 0 1,0 -2.60,0M530.64,219.88a1.30,1.30 0 1,0 2.60,0a1.30,1.30 0 1,0 -2.60,0M532.31,214.93a1.30,1.30 0 1,0 2.60,0a1.30,1.30 0 1,0 -2.60,0M533.70,209.90a1.30,1.30 0 1,0 2.60,0a1.30,1.30 0 1,0 -2.60,0M535.25,204.91a1.30,1.30 0 1,0 2.60,0a1.30,1.30 0 1,0 -2.60,0M537.23,200.08a1.30,1.30 0 1,0 2.60,0a1.30,1.30 0 1,0 -2.60,0M539.39,195.32a1.30,1.30 0 1,0 2.60,0a1.30,1.30 0 1,0 -2.60,0M542.06,190.85a1.30,1.30 0 1,0 2.60,0a1.30,1.30 0 1,0 -2.60,0M546.74,191.61a1.30,1.30 0 1,0 2.60,0a1.30,1.30 0 1,0 -2.60,0M549.23,195.27a1.30,1.30 0 1,0 2.60,0a1.30,1.30 0 1,0 -2.60,0M551.64,199.90a1.30,1.30 0 1,0 2.60,0a1.30,1.30 0 1,0 -2.60,0M553.62,204.73a1.30,1.30 0 1,0 2.60,0a1.30,1.30 0 1,0 -2.60,0M555.82,209.47a1.30,1.30 0 1,0 2.60,0a1.30,1.30 0 1,0 -2.60,0M558.24,214.10a1.30,1.30 0 1,0 2.60,0a1.30,1.30 0 1,0 -2.60,0M560.84,218.63a1.30,1.30 0 1,0 2.60,0a1.30,1.30 0 1,0 -2.60,0M564.32,222.50a1.30,1.30 0 1,0 2.60,0a1.30,1.30 0 1,0 -2.60,0M569.10,221.64a1.30,1.30 0 1,0 2.60,0a1.30,1.30 0 1,0 -2.60,0M572.91,218.10a1.30,1.30 0 1,0 2.60,0a1.30,1.30 0 1,0 -2.60,0M575.66,213.68a1.30,1.30 0 1,0 2.60,0a1.30,1.30 0 1,0 -2.60,0M577.79,208.91a1.30,1.30 0 1,0 2.60,0a1.30,1.30 0 1,0 -2.60,0M579.52,203.98a1.30,1.30 0 1,0 2.60,0a1.30,1.30 0 1,0 -2.60,0M581.01,198.97a1.30,1.30 0 1,0 2.60,0a1.30,1.30 0 1,0 -2.60,0M582.25,193.90a1.30,1.30 0 1,0 2.60,0a1.30,1.30 0 1,0 -2.60,0M583.56,188.84a1.30,1.30 0 1,0 2.60,0a1.30,1.30 0 1,0 -2.60,0M584.98,183.81a1.30,1.30 0 1,0 2.60,0a1.30,1.30 0 1,0 -2.60,0M586.63,178.86a1.30,1.30 0 1,0 2.60,0a1.30,1.30 0 1,0 -2.60,0M588.20,173.88a1.30,1.30 0 1,0 2.60,0a1.30,1.30 0 1,0 -2.60,0M589.64,168.85a1.30,1.30 0 1,0 2.60,0a1.30,1.30 0 1,0 -2.60,0M590.91,163.79a1.30,1.30 0 1,0 2.60,0a1.30,1.30 0 1,0 -2.60,0M592.02,158.68a1.30,1.30 0 1,0 2.60,0a1.30,1.30 0 1,0 -2.60,0M593.41,153.65a1.30,1.30 0 1,0 2.60,0a1.30,1.30 0 1,0 -2.60,0M594.72,148.59a1.30,1.30 0 1,0 2.60,0a1.30,1.30 0 1,0 -2.60,0M597.45,144.21a1.30,1.30 0 1,0 2.60,0a1.30,1.30 0 1,0 -2.60,0M602.07,144.35a1.30,1.30 0 1,0 2.60,0a1.30,1.30 0 1,0 -2.60,0M605.35,148.35a1.30,1.30 0 1,0 2.60,0a1.30,1.30 0 1,0 -2.60,0M607.63,153.04a1.30,1.30 0 1,0 2.60,0a1.30,1.30 0 1,0 -2.60,0M609.48,157.93a1.30,1.30 0 1,0 2.60,0a1.30,1.30 0 1,0 -2.60,0M610.86,162.97a1.30,1.30 0 1,0 2.60,0a1.30,1.30 0 1,0 -2.60,0M612.21,168.01a1.30,1.30 0 1,0 2.60,0a1.30,1.30 0 1,0 -2.60,0M614.04,172.90a1.30,1.30 0 1,0 2.60,0a1.30,1.30 0 1,0 -2.60,0M616.02,177.73a1.30,1.30 0 1,0 2.60,0a1.30,1.30 0 1,0 -2.60,0M618.19,182.49a1.30,1.30 0 1,0 2.60,0a1.30,1.30 0 1,0 -2.60,0M621.04,186.83a1.30,1.30 0 1,0 2.60,0a1.30,1.30 0 1,0 -2.60,0M625.47,189.45a1.30,1.30 0 1,0 2.60,0a1.30,1.30 0 1,0 -2.60,0M629.88,187.41a1.30,1.30 0 1,0 2.60,0a1.30,1.30 0 1,0 -2.60,0M632.53,182.93a1.30,1.30 0 1,0 2.60,0a1.30,1.30 0 1,0 -2.60,0M634.37,178.04a1.30,1.30 0 1,0 2.60,0a1.30,1.30 0 1,0 -2.60,0M635.98,173.07a1.30,1.30 0 1,0 2.60,0a1.30,1.30 0 1,0 -2.60,0M637.38,168.04a1.30,1.30 0 1,0 2.60,0a1.30,1.30 0 1,0 -2.60,0M638.19,162.88a1.30,1.30 0 1,0 2.60,0a1.30,1.30 0 1,0 -2.60,0M639.12,157.73a1.30,1.30 0 1,0 2.60,0a1.30,1.30 0 1,0 -2.60,0M639.96,152.58a1.30,1.30 0 1,0 2.60,0a1.30,1.30 0 1,0 -2.60,0M640.51,147.38a1.30,1.30 0 1,0 2.60,0a1.30,1.30 0 1,0 -2.60,0M641.38,142.24a1.30,1.30 0 1,0 2.60,0a1.30,1.30 0 1,0 -2.60,0M642.48,137.13a1.30,1.30 0 1,0 2.60,0a1.30,1.30 0 1,0 -2.60,0M643.65,132.04a1.30,1.30 0 1,0 2.60,0a1.30,1.30 0 1,0 -2.60,0M644.74,126.93a1.30,1.30 0 1,0 2.60,0a1.30,1.30 0 1,0 -2.60,0M645.77,121.81a1.30,1.30 0 1,0 2.60,0a1.30,1.30 0 1,0 -2.60,0M646.69,116.66a1.30,1.30 0 1,0 2.60,0a1.30,1.30 0 1,0 -2.60,0M647.49,111.50a1.30,1.30 0 1,0 2.60,0a1.30,1.30 0 1,0 -2.60,0M648.51,106.38a1.30,1.30 0 1,0 2.60,0a1.30,1.30 0 1,0 -2.60,0M649.78,101.31a1.30,1.30 0 1,0 2.60,0a1.30,1.30 0 1,0 -2.60,0M651.47,96.37a1.30,1.30 0 1,0 2.60,0a1.30,1.30 0 1,0 -2.60,0M653.36,91.55a1.30,1.30 0 1,0 2.60,0a1.30,1.30 0 1,0 -2.60,0M657.38,90.13a1.30,1.30 0 1,0 2.60,0a1.30,1.30 0 1,0 -2.60,0M659.76,94.77a1.30,1.30 0 1,0 2.60,0a1.30,1.30 0 1,0 -2.60,0M661.22,99.78a1.30,1.30 0 1,0 2.60,0a1.30,1.30 0 1,0 -2.60,0M662.45,104.86a1.30,1.30 0 1,0 2.60,0a1.30,1.30 0 1,0 -2.60,0M663.75,109.92a1.30,1.30 0 1,0 2.60,0a1.30,1.30 0 1,0 -2.60,0M664.88,115.02a1.30,1.30 0 1,0 2.60,0a1.30,1.30 0 1,0 -2.60,0M665.67,120.18a1.30,1.30 0 1,0 2.60,0a1.30,1.30 0 1,0 -2.60,0M666.64,125.31a1.30,1.30 0 1,0 2.60,0a1.30,1.30 0 1,0 -2.60,0M667.66,130.44a1.30,1.30 0 1,0 2.60,0a1.30,1.30 0 1,0 -2.60,0M668.58,135.58a1.30,1.30 0 1,0 2.60,0a1.30,1.30 0 1,0 -2.60,0M669.39,140.74a1.30,1.30 0 1,0 2.60,0a1.30,1.30 0 1,0 -2.60,0M670.30,145.88a1.30,1.30 0 1,0 2.60,0a1.30,1.30 0 1,0 -2.60,0M670.94,151.07a1.30,1.30 0 1,0 2.60,0a1.30,1.30 0 1,0 -2.60,0M671.87,156.21a1.30,1.30 0 1,0 2.60,0a1.30,1.30 0 1,0 -2.60,0M672.65,161.37a1.30,1.30 0 1,0 2.60,0a1.30,1.30 0 1,0 -2.60,0M673.37,166.55a1.30,1.30 0 1,0 2.60,0a1.30,1.30 0 1,0 -2.60,0M674.30,171.69a1.30,1.30 0 1,0 2.60,0a1.30,1.30 0 1,0 -2.60,0M675.49,176.77a1.30,1.30 0 1,0 2.60,0a1.30,1.30 0 1,0 -2.60,0M676.47,181.91a1.30,1.30 0 1,0 2.60,0a1.30,1.30 0 1,0 -2.60,0M677.47,187.03a1.30,1.30 0 1,0 2.60,0a1.30,1.30 0 1,0 -2.60,0M678.40,192.17a1.30,1.30 0 1,0 2.60,0a1.30,1.30 0 1,0 -2.60,0M679.42,197.30a1.30,1.30 0 1,0 2.60,0a1.30,1.30 0 1,0 -2.60,0M680.45,202.42a1.30,1.30 0 1,0 2.60,0a1.30,1.30 0 1,0 -2.60,0M681.26,207.58a1.30,1.30 0 1,0 2.60,0a1.30,1.30 0 1,0 -2.60,0M682.47,212.66a1.30,1.30 0 1,0 2.60,0a1.30,1.30 0 1,0 -2.60,0M683.42,217.80a1.30,1.30 0 1,0 2.60,0a1.30,1.30 0 1,0 -2.60,0M684.62,222.88a1.30,1.30 0 1,0 2.60,0a1.30,1.30 0 1,0 -2.60,0M685.92,227.94a1.30,1.30 0 1,0 2.60,0a1.30,1.30 0 1,0 -2.60,0M687.57,232.89a1.30,1.30 0 1,0 2.60,0a1.30,1.30 0 1,0 -2.60,0M690.85,236.87a1.30,1.30 0 1,0 2.60,0a1.30,1.30 0 1,0 -2.60,0M695.08,234.34a1.30,1.30 0 1,0 2.60,0a1.30,1.30 0 1,0 -2.60,0M697.80,229.90a1.30,1.30 0 1,0 2.60,0a1.30,1.30 0 1,0 -2.60,0"/>
</svg>
</body></html>
